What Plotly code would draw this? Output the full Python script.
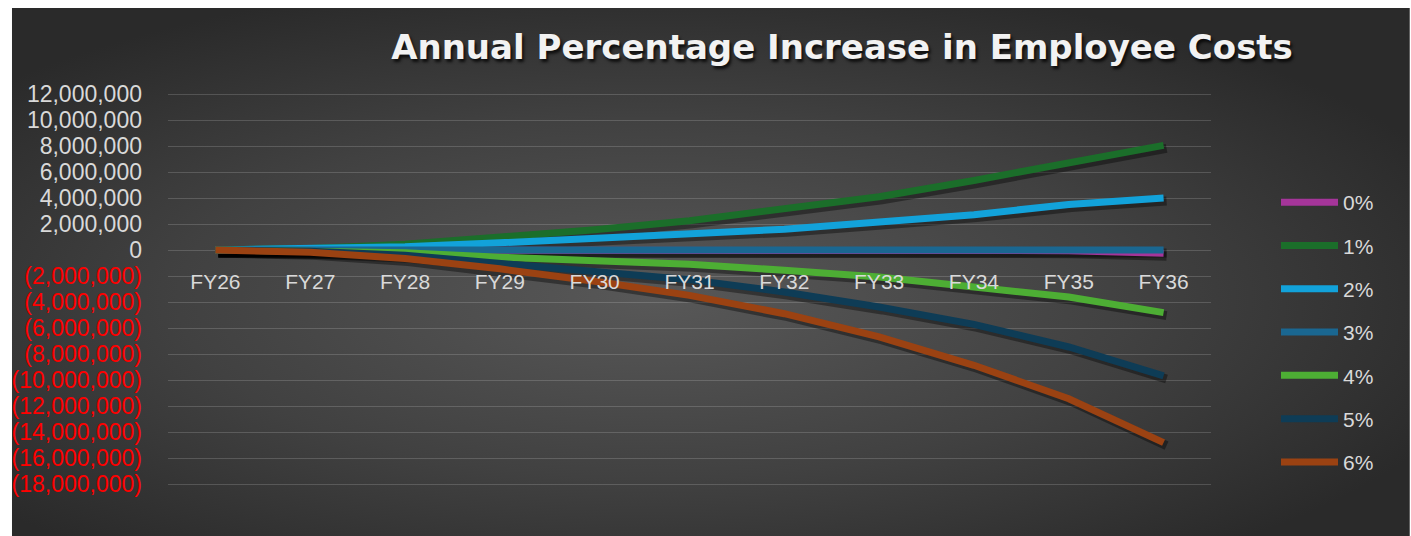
import base64
import plotly.graph_objects as go

# ---------------- data ----------------
categories = ["FY26", "FY27", "FY28", "FY29", "FY30", "FY31", "FY32", "FY33", "FY34", "FY35", "FY36"]
series_names = ["0%", "1%", "2%", "3%", "4%", "5%", "6%"]

s0 = [0, 0, 0, 0, 0, 0, 0, 0, 0, -50000, -250000]
s1 = [0, 120000, 450000, 950000, 1550000, 2250000, 3150000, 4100000, 5350000, 6750000, 8050000]
s2 = [0, 60000, 250000, 550000, 880000, 1180000, 1600000, 2150000, 2720000, 3500000, 4000000]
s3 = [0, 0, 0, 0, 0, 0, 0, 0, 0, 0, 0]
s4 = [0, -50000, -220000, -550000, -800000, -1100000, -1560000, -2080000, -2850000, -3620000, -4820000]
s5 = [0, -100000, -400000, -1050000, -1600000, -2280000, -3230000, -4380000, -5720000, -7460000, -9690000]
s6 = [0, -180000, -650000, -1450000, -2400000, -3490000, -4900000, -6690000, -8870000, -11440000, -14820000]
series_values = [s0, s1, s2, s3, s4, s5, s6]

colors = ["#A5359A", "#1B6E2A", "#12A2DA", "#1A6791", "#4DAE34", "#0E3C56", "#9B4212"]

y_tick_values = [12000000, 10000000, 8000000, 6000000, 4000000, 2000000, 0,
                 -2000000, -4000000, -6000000, -8000000, -10000000, -12000000,
                 -14000000, -16000000, -18000000]

title_text = "Annual Percentage Increase in Employee Costs"


def fmt(v):
    if v < 0:
        return '<span style="color:#FF0000">(' + f"{-v:,}" + ')</span>'
    return f"{v:,}"


y_tick_text = [fmt(v) for v in y_tick_values]

# ---------------- geometry ----------------
W, H = 1411, 536
pad_px = 3
L, R, T, B = 162, 200, 94 - pad_px, 52 - pad_px
plot_w = W - L - R
plot_h = H - T - B
lo, hi = -18000000, 12000000
units_per_px = (hi - lo) / 390.0
y_min, y_max = lo - pad_px * units_per_px, hi + pad_px * units_per_px

# background: radial gradient card
svg = '''<svg xmlns="http://www.w3.org/2000/svg" viewBox="0 0 1406 528" preserveAspectRatio="none">
<defs><radialGradient id="g" cx="0.46" cy="0.55" r="0.62" fx="0.46" fy="0.55">
<stop offset="0" stop-color="#585858"/><stop offset="0.55" stop-color="#414141"/><stop offset="1" stop-color="#2a2a2a"/>
</radialGradient></defs>
<rect x="0" y="0" width="1406" height="528" fill="url(#g)"/></svg>'''
bg_src = "data:image/svg+xml;base64," + base64.b64encode(svg.encode()).decode()

card_left, card_top, card_right, card_bottom = 5, 8, 1411, 536

fig = go.Figure()

# soft drop shadows: same data on a slightly offset (hidden) axis pair, drawn underneath
for vals in series_values:
    fig.add_trace(go.Scatter(
        x=categories, y=vals, mode="lines", xaxis="x", yaxis="y",
        line=dict(color="rgba(0,0,0,0.38)", width=9),
        showlegend=False, hoverinfo="skip"))

for i, (name, vals) in enumerate(zip(series_names, series_values)):
    fig.add_trace(go.Scatter(
        x=categories, y=vals, mode="lines", name=name,
        xaxis="x2", yaxis="y2",
        legendgroup=name,
        line=dict(color=colors[i], width=7)))

shift_x = 3 / (plot_w / len(categories))
shift_y = 3 * (y_max - y_min) / plot_h

fig.update_layout(
    width=W, height=H,
    margin=dict(l=L, r=R, t=T, b=B),
    paper_bgcolor="white",
    plot_bgcolor="rgba(0,0,0,0)",
    font=dict(family="Liberation Sans, Arial, sans-serif", color="#D9D9D9"),
    title=dict(
        text=title_text,
        xref="container", yref="container",
        x=842 / W, y=1 - 47 / H, xanchor="center", yanchor="middle",
        font=dict(family="DejaVu Sans, sans-serif", size=34, color="#F2F2F2", weight="bold",
                  shadow="2px 3px 3px rgba(0,0,0,0.75)"),
    ),
    # hidden, slightly offset axes for shadows
    xaxis=dict(
        type="category", categoryorder="array", categoryarray=categories,
        range=[-0.5 - shift_x, len(categories) - 0.5 - shift_x], visible=False,
    ),
    yaxis=dict(range=[y_min + shift_y, y_max + shift_y], visible=False),
    # visible axes
    xaxis2=dict(
        type="category", categoryorder="array", categoryarray=categories,
        range=[-0.5, len(categories) - 0.5],
        overlaying="x", anchor="free", position=(0 - y_min) / (y_max - y_min),
        showgrid=False, showline=False, zeroline=False, ticks="",
        tickfont=dict(size=21, color="#D9D9D9"),
        ticklabelstandoff=17,
    ),
    yaxis2=dict(
        range=[y_min, y_max], overlaying="y", side="left", anchor="x2",
        tickmode="array", tickvals=y_tick_values, ticktext=y_tick_text,
        showgrid=True, gridcolor="rgba(255,255,255,0.16)", gridwidth=1.3,
        zeroline=False, showline=False, ticks="",
        tickfont=dict(size=23, color="#D9D9D9"),
        ticklabelstandoff=25,
    ),
    legend=dict(
        xref="container", yref="container",
        x=1276 / W, y=1 - 182 / H, xanchor="left", yanchor="top",
        bgcolor="rgba(0,0,0,0)",
        font=dict(size=21, color="#D9D9D9"),
        traceorder="grouped", tracegroupgap=13,
        itemwidth=57,
    ),
    images=[dict(
        source=bg_src, xref="paper", yref="paper",
        x=(card_left - L) / plot_w, y=(H - B - card_top) / plot_h,
        sizex=(card_right - card_left) / plot_w, sizey=(card_bottom - card_top) / plot_h,
        xanchor="left", yanchor="top", sizing="stretch", layer="below",
    )],
    showlegend=True,
)

try:
    fig.update_layout(legend=dict(maxheight=500))
except Exception:
    fig.update_layout(legend=dict(yanchor="bottom", y=1 - 488 / H))

fig.write_html("out.html")
